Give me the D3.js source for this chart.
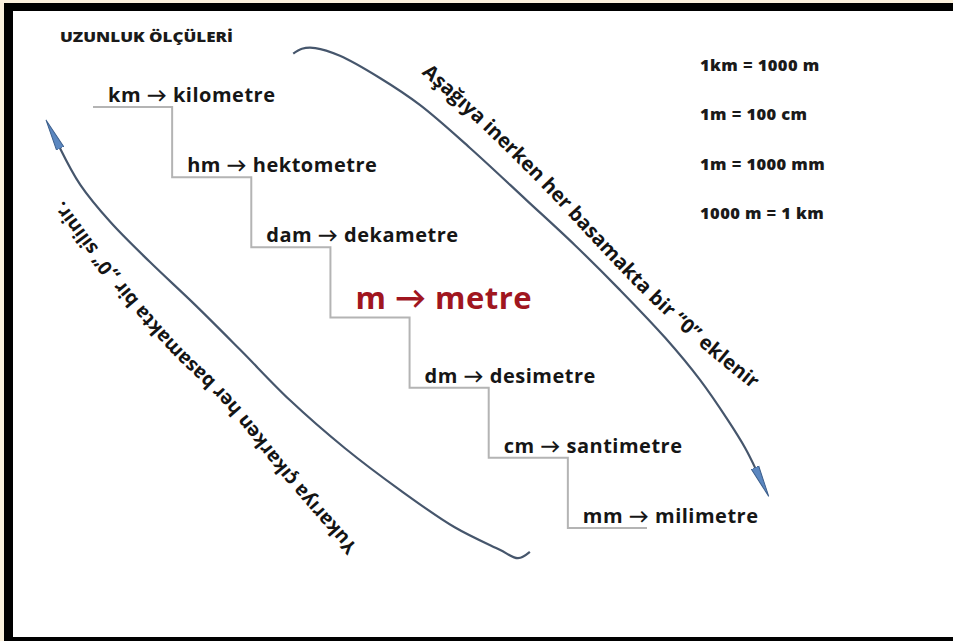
<!DOCTYPE html>
<html>
<head>
<meta charset="utf-8">
<script src="https://cdn.jsdelivr.net/npm/d3@7"></script>
<style>
  html, body { margin: 0; padding: 0; overflow: hidden; background: #fbf1dd; }
  svg { display: block; }
</style>
</head>
<body>
<div id="chart"></div>
<script>
// stair: one step per unit, top to bottom
const units = ["km", "hm", "dam", "m", "dm", "cm", "mm"];
const names = ["kilometre", "hektometre", "dekametre", "metre", "desimetre", "santimetre", "milimetre"];
const title = "UZUNLUK ÖLÇÜLERİ";
const equations = ["1km = 1000 m", "1m = 100 cm", "1m = 1000 mm", "1000 m = 1  km"];
const downText = "Aşağıya inerken her basamakta bir \u201C0\u201D eklenir";
const upText = "Yukarıya çıkarken her basamakta bir \u201E0\u201D silinir.";

// arcs, in stair units (x = step index, y = step level)
const downArc = [[2.53, -0.76], [2.64, -0.83], [2.81, -0.84], [3.12, -0.73], [3.63, -0.41], [4.13, -0.03],
  [4.76, 0.58], [5.48, 1.33], [6.09, 1.97], [6.66, 2.61], [7.23, 3.29], [7.67, 3.89], [8.02, 4.46],
  [8.24, 4.86], [8.37, 5.15]];
const upArc = [[-0.42, 0.58], [-0.16, 1.11], [0.22, 1.64], [0.72, 2.21], [1.29, 2.82], [1.86, 3.46],
  [2.49, 4.18], [3.18, 4.86], [3.88, 5.46], [4.57, 5.99], [5.14, 6.31], [5.37, 6.43], [5.52, 6.34]];
const downTextLine = [[4.22, -0.56], [5.02, 0.26], [5.78, 1.11], [6.41, 1.87], [7.04, 2.61], [7.73, 3.32], [8.39, 3.93]];
const upTextLine = [[3.27, 6.34], [2.49, 5.34], [1.67, 4.20], [1.0, 3.46], [0.40, 2.68], [-0.06, 2.01], [-0.46, 1.40]];

const width = 953, height = 641;
const font = "'Open Sans', Lato, sans-serif";

const svg = d3.select("#chart").append("svg")
  .attr("width", width)
  .attr("height", height);

// frame: black on the left, top and bottom only
svg.append("rect").attr("x", 4).attr("y", 3).attr("width", width - 4).attr("height", height - 3).attr("fill", "#000");
svg.append("rect").attr("x", 13).attr("y", 11).attr("width", width - 13 + 5).attr("height", 626).attr("fill", "#fff");

const x = d3.scaleLinear().domain([0, units.length]).range([93, 647]);
const y = d3.scaleLinear().domain([0, units.length - 1]).range([107, 528]);

// stair outline
const stair = [];
units.forEach((u, i) => {
  stair.push([i, i], [i + 1, i]);
});
svg.append("path")
  .attr("d", d3.line().x(d => x(d[0])).y(d => y(d[1]))(stair))
  .attr("fill", "none")
  .attr("stroke", "#b4b4b4")
  .attr("stroke-width", 2);

// labels on steps
svg.selectAll("text.step")
  .data(units)
  .join("text")
  .attr("class", "step")
  .attr("x", (d, i) => x(i) + (d === "m" ? 25 : 15))
  .attr("y", (d, i) => y(i) - (d === "m" ? 9 : 5))
  .attr("font-family", font)
  .attr("font-weight", 700)
  .attr("font-size", d => d === "m" ? 31 : 20)
  .attr("letter-spacing", 0.5)
  .attr("fill", d => d === "m" ? "#a0161f" : "#161616")
  .text((d, i) => `${d} \u2192 ${names[i]}`);

// title and equalities
svg.append("text")
  .attr("x", 60).attr("y", 42)
  .attr("font-family", font).attr("font-weight", 800).attr("font-size", 14)
  .attr("textLength", 173).attr("lengthAdjust", "spacingAndGlyphs")
  .attr("fill", "#1a1a1a")
  .text(title);

const ey = d3.scalePoint().domain(equations).range([71, 219]);
svg.selectAll("text.eq")
  .data(equations)
  .join("text")
  .attr("class", "eq")
  .attr("x", 700)
  .attr("y", d => ey(d))
  .attr("font-family", font).attr("font-weight", 800).attr("font-size", 16.5)
  .attr("letter-spacing", 0.4)
  .attr("fill", "#1a1a1a")
  .text(d => d);

// arrows
const defs = svg.append("defs");
defs.append("marker")
  .attr("id", "head")
  .attr("markerUnits", "userSpaceOnUse")
  .attr("viewBox", "0 -6 34 12")
  .attr("refX", 1).attr("refY", 0)
  .attr("markerWidth", 34).attr("markerHeight", 12)
  .attr("orient", "auto-start-reverse")
  .append("path")
  .attr("d", "M0,-4L32,0L0,4Z")
  .attr("fill", "#5b87c0")
  .attr("stroke", "#3d5f8c")
  .attr("stroke-width", 1);

const arcLine = d3.line().x(d => x(d[0])).y(d => y(d[1])).curve(d3.curveCatmullRom.alpha(0.5));

svg.append("path")
  .attr("d", arcLine(downArc))
  .attr("fill", "none").attr("stroke", "#46566c").attr("stroke-width", 2.2)
  .attr("marker-end", "url(#head)");

svg.append("path")
  .attr("d", arcLine(upArc))
  .attr("fill", "none").attr("stroke", "#46566c").attr("stroke-width", 2.2)
  .attr("marker-start", "url(#head)");

// texts along the arrows, sized to fill their guide lines
function curvedText(id, pts, label) {
  const guide = defs.append("path")
    .attr("id", id)
    .attr("d", arcLine(pts));
  const t = svg.append("text")
    .attr("font-family", font).attr("font-weight", 700).attr("font-size", 16)
    .attr("dominant-baseline", "central")
    .attr("fill", "#141414");
  t.append("textPath").attr("href", "#" + id).text(label);
  const len = guide.node().getTotalLength();
  const w = t.node().getComputedTextLength();
  t.attr("font-size", 16 * len / w);
}
curvedText("downGuide", downTextLine, downText);
curvedText("upGuide", upTextLine, upText);
</script>
</body>
</html>
